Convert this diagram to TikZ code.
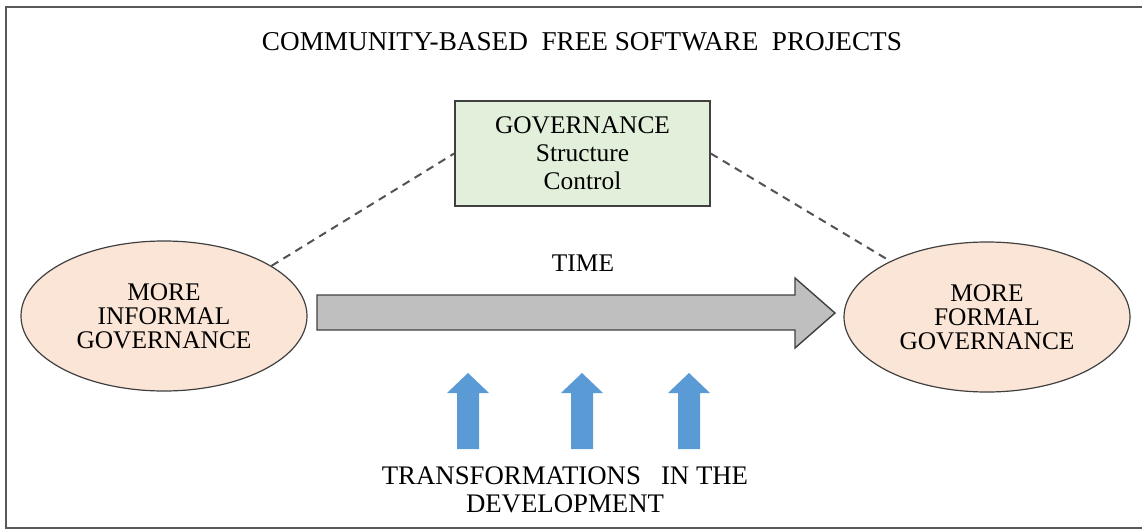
\documentclass[tikz,border=0pt]{standalone}
\usepackage{fontspec}
\setmainfont{Liberation Serif}
\usetikzlibrary{shapes.geometric}

\definecolor{boxgreen}{HTML}{E2EFDA}
\definecolor{ovalpeach}{HTML}{FBE5D6}
\definecolor{timegray}{HTML}{BFBFBF}
\definecolor{pushblue}{HTML}{5B9BD5}
\definecolor{edgegray}{HTML}{404040}

\tikzset{
  govbox/.style={draw=edgegray,line width=0.8pt,fill=boxgreen,minimum width=127.5pt,
    minimum height=52.5pt,align=center,inner sep=0pt,font=\fontsize{12.7}{14}\selectfont},
  govoval/.style={ellipse,draw=edgegray,line width=0.6pt,fill=ovalpeach,minimum width=143pt,
    minimum height=75pt,align=center,inner sep=0pt,font=\fontsize{12.7}{12}\selectfont},
  plaintext/.style={align=center,inner sep=0pt,font=\fontsize{12.7}{14}\selectfont},
  link/.style={dashed,dash pattern=on 4pt off 3pt,line width=1pt,draw=edgegray!90}
}

\begin{document}
\begin{tikzpicture}[x=0.5pt,y=-0.5pt]
  \useasboundingbox (0,0) rectangle (1142,530);

  % Outer frame (right edge falls outside the picture)
  \draw[line width=1pt,draw=gray!70!black] (1142,7) -- (6,7) -- (6,528) -- (1142,528);

  % Title
  \node[plaintext,font=\fontsize{13.6}{14}\selectfont] (title) at (582,42)
    {COMMUNITY-BASED\ \ FREE SOFTWARE\ \ PROJECTS};

  % Governance box and the two ends of the timeline
  \node[govbox] (gov) at (582.5,153.5) {GOVERNANCE\\Structure\\Control};
  \node[govoval] (informal) at (164,316) {MORE\\INFORMAL\\GOVERNANCE};
  \node[govoval] (formal) at (987,317) {MORE\\FORMAL\\GOVERNANCE};

  % Dashed links to the box
  \draw[link] (informal.25) -- (gov.west);
  \draw[link] (gov.east) -- (formal.150);

  % Time arrow
  \node[plaintext] (time) at (583,263) {TIME};
  \draw[fill=timegray,draw=edgegray,line width=0.7pt,line join=miter]
    (317,295) -- (795,295) -- (795,278) -- (835,313) -- (795,348) -- (795,330) -- (317,330) -- cycle;

  % Pushes from below
  \foreach \x in {468,582,689}{
    \fill[pushblue] (\x-11,449) -- (\x-11,393) -- (\x-21,393) -- (\x,373)
      -- (\x+21,393) -- (\x+11,393) -- (\x+11,449) -- cycle;
  }

  \node[plaintext,anchor=north,font=\fontsize{13.4}{14}\selectfont] (transf) at (565,466)
    {TRANSFORMATIONS\ \ \ IN THE\\DEVELOPMENT};

\end{tikzpicture}
\end{document}
